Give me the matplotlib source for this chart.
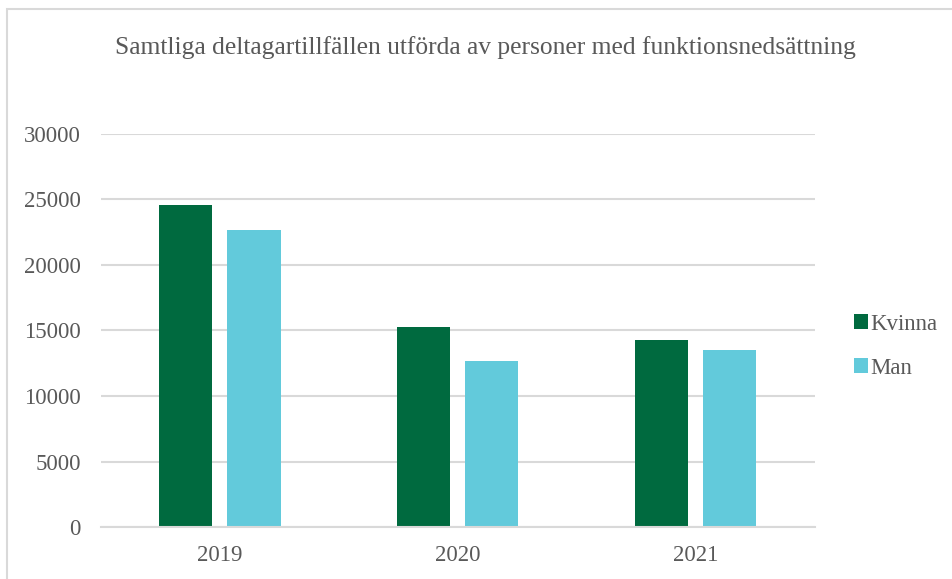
import matplotlib.pyplot as plt
import numpy as np
from matplotlib.patches import Rectangle

years = ['2019', '2020', '2021']
kvinna = [24600, 15300, 14300]
man = [22700, 12700, 13500]
yticks = [0, 5000, 10000, 15000, 20000, 25000, 30000]

plt.rcParams['font.family'] = ['Liberation Serif', 'DejaVu Serif']
grey = '#595959'

fig = plt.figure(figsize=(9.53, 5.79), dpi=100)
ax = fig.add_axes([0.106, 0.0898, 0.749, 0.6788])

# ram runt diagrammet (syns bara uppe och till vänster)
fig.patches.append(Rectangle((6.5 / 953, -0.1), 1.2, (579 - 9.5) / 579 + 0.1,
                             transform=fig.transFigure, fill=False,
                             edgecolor='#d9d9d9', lw=1.5))

x = np.arange(len(years))
w = 0.223
ax.bar(x - 0.143, kvinna, w, color='#006A3F', label='Kvinna', zorder=3)
ax.bar(x + 0.143, man, w, color='#62CADB', label='Man', zorder=3)

ax.set_xlim(-0.5, 2.5)
ax.set_ylim(0, 30000)
ax.set_yticks(yticks)
ax.set_xticks(x)
ax.set_xticklabels(years)
ax.yaxis.grid(True, color='#d9d9d9', lw=1.5, zorder=0)
for s in ['top', 'right', 'left']:
    ax.spines[s].set_visible(False)
ax.spines['bottom'].set_color('#d9d9d9')
ax.spines['bottom'].set_linewidth(1.5)
ax.spines['bottom'].set_zorder(4)
ax.tick_params(axis='both', length=0, labelsize=16.5, colors=grey)
ax.tick_params(axis='y', pad=14.5)
ax.tick_params(axis='x', pad=13)

fig.text(0.5095, 1 - 48 / 579, 'Samtliga deltagartillfällen utförda av personer med funktionsnedsättning',
         ha='center', va='center', fontsize=18.4, color=grey)

ax.legend(loc='center left', bbox_to_anchor=(1.026, 0.46), frameon=False,
          fontsize=16.5, labelcolor=grey, handlelength=0.6, handleheight=0.6,
          handletextpad=0.12, labelspacing=1.0)

fig.savefig('out.png', dpi=100)
